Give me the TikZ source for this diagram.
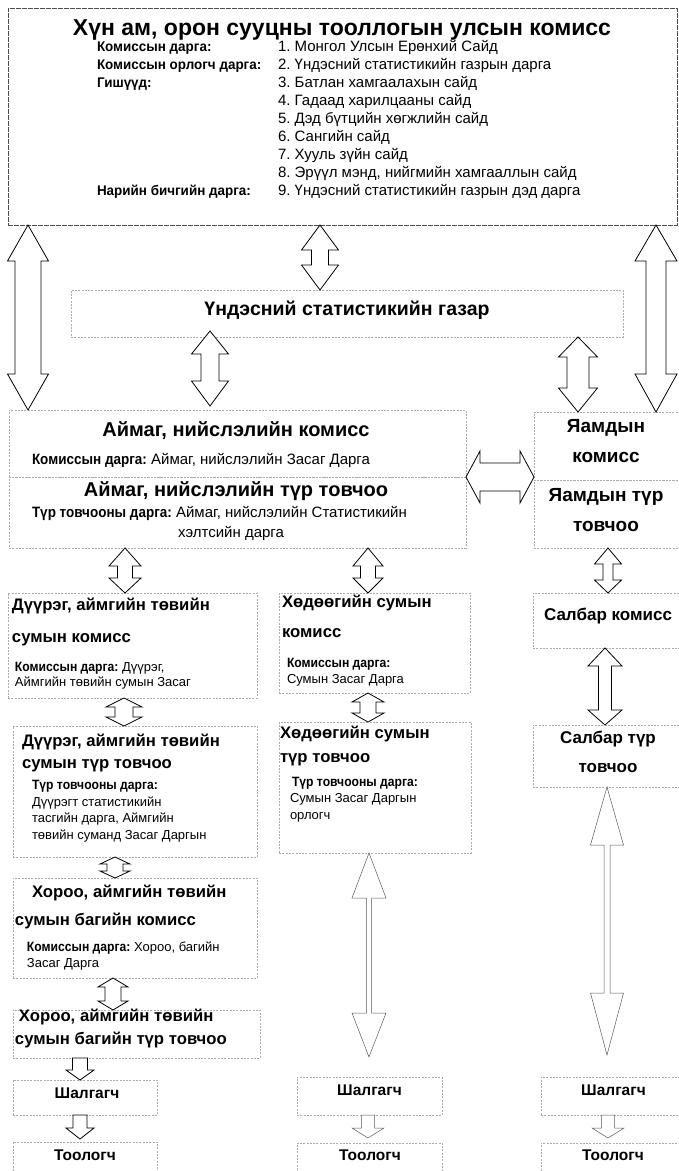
\documentclass[tikz,border=0pt]{standalone}
\usepackage{fontspec}
\setmainfont{Liberation Sans}
\newfontfamily\condf{Liberation Sans}[FakeStretch=0.96]
\newfontfamily\condg{Liberation Sans}[FakeStretch=0.9]
\usetikzlibrary{calc}
\frenchspacing
\newcommand\fs[1]{\fontsize{#1}{#1}\selectfont}
\newcommand\lab[2]{{\condg\bfseries\fs{#1}#2}}
% vertical double block arrow: [style]{top}{bottom}{head half}{shaft half}{top head len}{bottom head len}
\newcommand\vdar[7][barrow]{\draw[#1] let \p1=(#2), \p2=(#3) in
 (\x1,\y1) -- (\x1+#4pt,\y1-#6pt) -- (\x1+#5pt,\y1-#6pt) -- (\x1+#5pt,\y2+#7pt) -- (\x1+#4pt,\y2+#7pt) -- (\x1,\y2)
 -- (\x1-#4pt,\y2+#7pt) -- (\x1-#5pt,\y2+#7pt) -- (\x1-#5pt,\y1-#6pt) -- (\x1-#4pt,\y1-#6pt) -- cycle;}
% single down block arrow: [style]{top}{bottom}{head half}{shaft half}{head len}
\newcommand\sdar[6][barrow]{\draw[#1] let \p1=(#2), \p2=(#3) in
 (\x1-#5pt,\y1) -- (\x1+#5pt,\y1) -- (\x1+#5pt,\y2+#6pt) -- (\x1+#4pt,\y2+#6pt) -- (\x1,\y2)
 -- (\x1-#4pt,\y2+#6pt) -- (\x1-#5pt,\y2+#6pt) -- cycle;}
% horizontal double block arrow: [style]{left}{right}{head half}{shaft half}{head len}
\newcommand\hdar[6][barrow]{\draw[#1] let \p1=(#2), \p2=(#3) in
 (\x1,\y1) -- (\x1+#6pt,\y1+#4pt) -- (\x1+#6pt,\y1+#5pt) -- (\x2-#6pt,\y1+#5pt) -- (\x2-#6pt,\y1+#4pt) -- (\x2,\y1)
 -- (\x2-#6pt,\y1-#4pt) -- (\x2-#6pt,\y1-#5pt) -- (\x1+#6pt,\y1-#5pt) -- (\x1+#6pt,\y1-#4pt) -- cycle;}
\begin{document}
\begin{tikzpicture}[x=1pt,y=-1pt,
 box/.style={draw=gray!65, dash pattern=on 2pt off 1.3pt, line width=0.6pt, inner sep=0pt, outer sep=0pt, anchor=north west},
 topbox/.style={box, draw=black!70, dash pattern=on 5pt off 1pt, line width=0.8pt},
 txt/.style={inner sep=0pt, outer sep=0pt, anchor=base west, text=black},
 ctxt/.style={txt, anchor=base},
 R/.style={font=\fs{#1}, yshift={-0.33*#1pt}},
 B/.style={font=\fs{#1}\bfseries, yshift={-0.33*#1pt}},
 C/.style={font=\condf\fs{#1}\bfseries, yshift={-0.33*#1pt}},
 ttl/.style={B=16.7},
 sub/.style={R=13},
 bigsub/.style={R=15},
 barrow/.style={draw=black, fill=white, line width=0.8pt, line join=miter},
 larrow/.style={draw=black!65, fill=white, line width=0.5pt, line join=miter}]
\useasboundingbox (0,0) rectangle (679,1171);
\fill[white] (0,0) rectangle (679,1171);
% x positions of the arrows
\coordinate (xL) at (28,0);
\coordinate (xR) at (656,0);
\coordinate (xT) at (320,0);
\coordinate (xA) at (210,0);
\coordinate (xY) at (578,0);
\coordinate (xD) at (125,0);
\coordinate (xH) at (368,0);
\coordinate (xS) at (608,0);
\coordinate (xS2) at (605,0);
\coordinate (xD2) at (124,0);
\coordinate (xD3) at (115,0);
\coordinate (xD4) at (113,0);
\coordinate (xB1) at (80,0);
\coordinate (xB2) at (369,0);
\coordinate (xB3) at (607,0);
% boxes
\node[topbox, minimum width=669pt, minimum height=217pt] (tb) at (8,8) {};
\node[box, minimum width=552pt, minimum height=47pt] (usg) at (71,290) {};
\node[box, minimum width=457pt, minimum height=67pt] (ak) at (9,410) {};
\node[box, minimum width=457pt, minimum height=71pt] (at) at (9,477) {};
\node[box, minimum width=150pt, minimum height=68pt] (yk) at (534,412) {};
\node[box, minimum width=150pt, minimum height=68pt] (yt) at (534,480) {};
\node[box, minimum width=249pt, minimum height=105pt] (dk) at (8,593) {};
\node[box, minimum width=244pt, minimum height=131pt] (dt) at (13,726) {};
\node[box, minimum width=191pt, minimum height=100pt] (hk) at (279,593) {};
\node[box, minimum width=192pt, minimum height=131pt] (ht) at (279,722) {};
\node[box, minimum width=151pt, minimum height=55pt] (sk) at (533,593) {};
\node[box, minimum width=151pt, minimum height=62pt] (st) at (533,725) {};
\node[box, minimum width=244pt, minimum height=100pt] (xk) at (13,878) {};
\node[box, minimum width=247pt, minimum height=48pt] (xt) at (13,1010) {};
\node[box, minimum width=144pt, minimum height=35pt] (sh1) at (13,1080) {};
\node[box, minimum width=144pt, minimum height=35pt] (to1) at (13,1142) {};
\node[box, minimum width=145pt, minimum height=38pt] (sh2) at (297,1077) {};
\node[box, minimum width=145pt, minimum height=35pt] (to2) at (297,1143) {};
\node[box, minimum width=143pt, minimum height=38pt] (sh3) at (541,1077) {};
\node[box, minimum width=143pt, minimum height=35pt] (to3) at (541,1143) {};
% top box texts
\node[ctxt, B=23] (tbt) at (342,28) {Хүн ам, орон сууцны тооллогын улсын комисс};
\begin{scope}[every node/.append style={txt, C=14}]
\node (la) at (97,47) {Комиссын дарга:};
\node (lb) at (97,65) {Комиссын орлогч дарга:};
\node (lc) at (97,83) {Гишүүд:};
\node (ld) at (97,191) {Нарийн бичгийн дарга:};
\end{scope}
\begin{scope}[every node/.append style={txt, R=15}]
\node (i1) at (278,47) {1. Монгол Улсын Ерөнхий Сайд};
\node (i2) at (278,65) {2. Үндэсний статистикийн газрын дарга};
\node (i3) at (278,83) {3. Батлан хамгаалахын сайд};
\node (i4) at (278,101) {4. Гадаад харилцааны сайд};
\node (i5) at (278,119) {5. Дэд бүтцийн хөгжлийн сайд};
\node (i6) at (278,137) {6. Сангийн сайд};
\node (i7) at (278,155) {7. Хууль зүйн сайд};
\node (i8) at (278,173) {8. Эрүүл мэнд, нийгмийн хамгааллын сайд};
\node (i9) at (278,191) {9. Үндэсний статистикийн газрын дэд дарга};
\end{scope}
% NSO
\node[ctxt, B=19.5] (usgt) at (347,309) {Үндэсний статистикийн газар};
% aimag
\node[ctxt, B=20] (akt) at (236,430) {Аймаг, нийслэлийн комисс};
\node[txt, bigsub] (aks) at (32,460) {\lab{15}{Комиссын дарга:} Аймаг, нийслэлийн Засаг Дарга};
\node[ctxt, B=20] (att) at (236,490) {Аймаг, нийслэлийн түр товчоо};
\node[txt, bigsub] (ats) at (32,513) {\lab{15}{Түр товчооны дарга:} Аймаг, нийслэлийн Статистикийн};
\node[ctxt, bigsub] (ats2) at (231,533) {хэлтсийн дарга};
% ministries
\node[ctxt, B=19] (ykt1) at (606,426) {Яамдын};
\node[ctxt, B=19] (ykt2) at (606,456) {комисс};
\node[ctxt, B=19] (ytt1) at (606,495) {Яамдын түр};
\node[ctxt, B=19] (ytt2) at (606,525) {товчоо};
% district column
\node[txt, ttl] (dkt1) at (12,605) {Дүүрэг, аймгийн төвийн};
\node[txt, ttl] (dkt2) at (12,637) {сумын комисс};
\node[txt, sub] (dks1) at (15,667) {\lab{13.5}{Комиссын дарга:} Дүүрэг,};
\node[txt, sub] (dks2) at (15,682) {Аймгийн төвийн сумын Засаг};
\node[txt, ttl] (dtt1) at (22,741) {Дүүрэг, аймгийн төвийн};
\node[txt, ttl] (dtt2) at (22,763) {сумын түр товчоо};
\node[txt, sub] (dts1) at (32,785) {\lab{13.5}{Түр товчооны дарга:}};
\node[txt, sub] (dts2) at (32,802) {Дүүрэгт статистикийн};
\node[txt, sub] (dts3) at (32,818) {тасгийн дарга, Аймгийн};
\node[txt, sub] (dts4) at (32,835) {төвийн суманд Засаг Даргын};
\node[txt, ttl] (xkt1) at (32,892) {Хороо, аймгийн төвийн};
\node[txt, ttl] (xkt2) at (15,920) {сумын багийн комисс};
\node[txt, sub] (xks1) at (27,947) {\lab{13.5}{Комиссын дарга:} Хороо, багийн};
\node[txt, sub] (xks2) at (27,963) {Засаг Дарга};
\node[txt, ttl] (xtt1) at (19,1016) {Хороо, аймгийн төвийн};
\node[txt, ttl] (xtt2) at (15,1039) {сумын багийн түр товчоо};
% rural column
\node[txt, ttl] (hkt1) at (282,602) {Хөдөөгийн сумын};
\node[txt, ttl] (hkt2) at (282,632) {комисс};
\node[txt, sub] (hks1) at (287,663) {\lab{13.5}{Комиссын дарга:}};
\node[txt, sub] (hks2) at (287,679) {Сумын Засаг Дарга};
\node[txt, ttl] (htt1) at (280,733) {Хөдөөгийн сумын};
\node[txt, ttl] (htt2) at (280,757) {түр товчоо};
\node[txt, sub] (hts1) at (292,782) {\lab{13.5}{Түр товчооны дарга:}};
\node[txt, sub] (hts2) at (290,798) {Сумын Засаг Даргын};
\node[txt, sub] (hts3) at (290,815) {орлогч};
% branch column
\node[ctxt, B=17] (skt) at (608,615) {Салбар комисс};
\node[ctxt, B=17] (stt1) at (608,738) {Салбар түр};
\node[ctxt, B=17] (stt2) at (608,767) {товчоо};
% checkers and enumerators
\begin{scope}[every node/.append style={ctxt, B=15.5}]
\node (sh1t) at ($(sh1.center)+(2,-4.5)$) {Шалгагч};
\node (sh2t) at ($(sh2.center)+(0,-6)$) {Шалгагч};
\node (sh3t) at ($(sh3.center)+(1,-6)$) {Шалгагч};
\node (to1t) at (85,1155) {Тоологч};
\node (to2t) at (370,1155) {Тоологч};
\node (to3t) at (613,1155) {Тоологч};
\end{scope}
% arrows
\vdar{tb.south -| xL}{ak.north -| xL}{20.5}{13}{36}{36}
\vdar{tb.south -| xR}{yk.north -| xR}{21}{10}{36}{38}
\vdar{tb.south -| xT}{usg.north -| xT}{18.5}{8.5}{25}{25}
\vdar{$(usg.south -| xA)+(0,-6)$}{$(ak.north -| xA)+(0,-4)$}{18.5}{9}{23}{25}
\vdar{usg.south -| xY}{yk.north -| xY}{19.5}{11}{20}{24}
\hdar{ak.south east}{$(yk.south west)+(0,-2)$}{26}{14}{14}
\vdar{at.south -| xD}{dk.north -| xD}{16}{7.5}{18}{15}
\vdar{at.south -| xH}{hk.north -| xH}{15}{7.5}{18}{15}
\vdar{yt.south -| xS}{sk.north -| xS}{13.5}{5}{16}{13}
\vdar{sk.south -| xS2}{st.north -| xS2}{17}{6.5}{18}{15}
\vdar{dk.south -| xD2}{dt.north -| xD2}{18}{9}{9}{9}
\vdar{hk.south -| xH}{ht.north -| xH}{16}{8}{9}{9}
\vdar{dt.south -| xD3}{xk.north -| xD3}{15}{8}{7}{7}
\vdar{xk.south -| xD4}{xt.north -| xD4}{15}{8}{9}{9}
\vdar[larrow]{ht.south -| xB2}{$(sh2.north -| xB2)+(0,-20)$}{17}{2.5}{45}{44}
\vdar[larrow]{st.south -| xB3}{$(sh3.north -| xB3)+(0,-22)$}{16.5}{3}{58}{62}
\sdar{xt.south -| xB1}{sh1.north -| xB1}{14}{7.5}{10}
\sdar{sh1.south -| xB1}{$(to1.north -| xB1)+(0,-3)$}{14}{7}{11}
\sdar[larrow]{sh2.south -| xH}{$(to2.north -| xH)+(0,-5)$}{16}{6.5}{10}
\sdar[larrow]{sh3.south -| xS}{$(to3.north -| xS)+(0,-5)$}{16}{6.5}{10}
\end{tikzpicture}
\end{document}
